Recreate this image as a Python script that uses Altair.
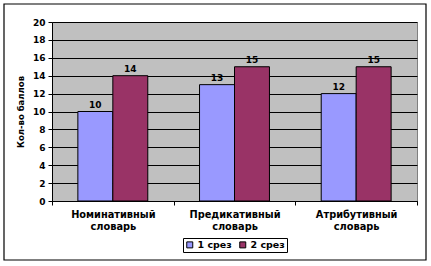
import altair as alt
import pandas as pd

categories = ["Номинативный\nсловарь", "Предикативный\nсловарь", "Атрибутивный\nсловарь"]
series_names = ["1 срез", "2 срез"]
srez1 = [10, 13, 12]
srez2 = [14, 15, 15]
colors = ["#9999FF", "#993366"]
y_ticks = list(range(0, 21, 2))

rows = []
for c, a, b in zip(categories, srez1, srez2):
    rows.append({"cat": c, "series": series_names[0], "val": a})
    rows.append({"cat": c, "series": series_names[1], "val": b})
df = pd.DataFrame(rows)

FONT = "DejaVu Sans"

x_enc = alt.X("cat:N", sort=categories, title=None,
              scale=alt.Scale(paddingInner=0, paddingOuter=0),
              axis=alt.Axis(labelExpr="split(datum.label, '\\n')", labelAngle=0,
                            labelFont=FONT, labelFontWeight="bold", labelFontSize=9.8,
                            labelColor="black", labelLineHeight=12, labelPadding=4,
                            tickBand="extent", tickSize=4, tickColor="black",
                            domainColor="black", labelBaseline="top"))
xoff = alt.XOffset("series:N", sort=series_names,
                   scale=alt.Scale(paddingInner=0, paddingOuter=0.74))
y_enc = alt.Y("val:Q", title="Кол-во баллов",
              scale=alt.Scale(domain=[0, 20], nice=False),
              axis=alt.Axis(values=y_ticks, grid=True, gridColor="black", gridOpacity=1,
                            gridWidth=1, tickSize=4, tickColor="black", domainColor="black",
                            labelOverlap=False, labelFont=FONT, labelFontWeight="bold",
                            labelFontSize=9, labelColor="black", labelPadding=3,
                            titleFont=FONT, titleFontWeight="bold", titleFontSize=8.5,
                            titleColor="black", titleX=-32, titleY=89.5,
                            titleAngle=270, titleAlign="center", titleBaseline="middle"))

bars = alt.Chart(df).mark_bar(stroke="black", strokeWidth=1).encode(
    x=x_enc, xOffset=xoff, y=y_enc,
    color=alt.Color("series:N", sort=series_names,
                    scale=alt.Scale(domain=series_names, range=colors),
                    legend=alt.Legend(title=None, orient="none", legendX=131, legendY=216,
                                      direction="horizontal", symbolType="square",
                                      symbolSize=36, symbolStrokeColor="black",
                                      symbolStrokeWidth=1, labelFont=FONT,
                                      labelFontWeight="bold", labelFontSize=9.5,
                                      labelColor="black", strokeColor="black",
                                      padding=2, columnPadding=5, labelOffset=3,
                                      fillColor="white")),
)
labels = alt.Chart(df).mark_text(dy=-7, font=FONT, fontWeight="bold", fontSize=9,
                                 color="black").encode(
    x=x_enc, xOffset=xoff, y=y_enc, text="val:Q")

border = alt.Chart(pd.DataFrame({"a": [0]})).mark_rect(
    fill=None, stroke="black", strokeWidth=1.2).encode(
    x=alt.value(-48), x2=alt.value(374), y=alt.value(-18), y2=alt.value(238))

chart = alt.layer(bars, labels, border).properties(
    width=365, height=179,
    autosize=alt.AutoSizeParams(type="none"),
    padding={"left": 52, "top": 22, "right": 14, "bottom": 65},
    background="white",
).configure_view(fill="#C0C0C0", stroke="#808080", strokeWidth=1)

chart.save("out.html", embed_options={"renderer": "svg", "actions": False})
